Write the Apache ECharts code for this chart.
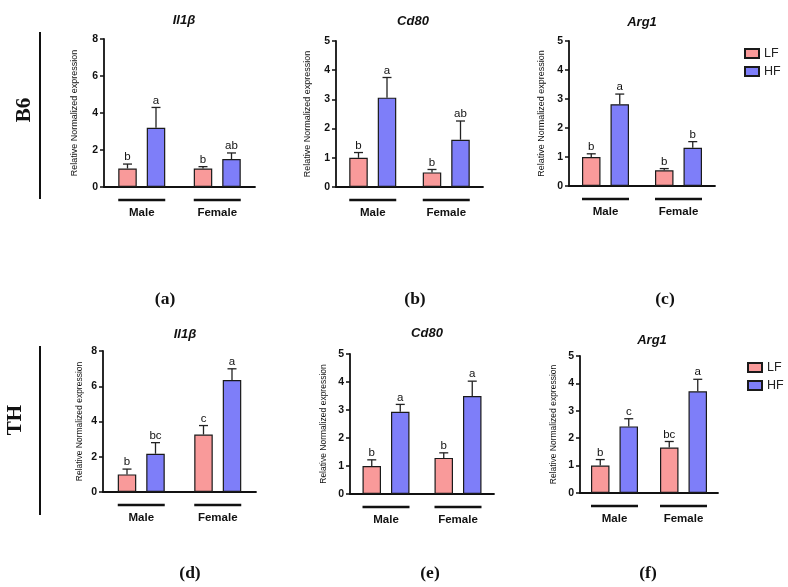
<!DOCTYPE html>
<html>
<head>
<meta charset="utf-8">
<script src="https://cdn.jsdelivr.net/npm/echarts@6/dist/echarts.min.js"></script>
<style>
html,body{margin:0;padding:0;background:#fff;}
#chart{width:788px;height:587px;}
</style>
</head>
<body>
<div id="chart"></div>
<script>
// ---------------- DATA ----------------
const categories = ['Male', 'Female'];
const seriesNames = ['LF', 'HF'];
const geneNames = ['Il1β', 'Cd80', 'Arg1', 'Il1β', 'Cd80', 'Arg1'];
const panelTags = ['a', 'b', 'c', 'd', 'e', 'f'];
const rowLabels = ['B6', 'TH'];
const yAxisName = 'Relative Normalized expression';
const yMax = [8, 5, 5, 8, 5, 5];
const yStep = [2, 1, 1, 2, 1, 1];

const lfMean = [[1.0, 1.0], [1.0, 0.5], [1.0, 0.54], [1.0, 3.26], [1.0, 1.29], [1.0, 1.66]];
const lfErr  = [[0.24, 0.1], [0.18, 0.1], [0.11, 0.06], [0.3, 0.51], [0.22, 0.18], [0.22, 0.22]];
const hfMean = [[3.2, 1.51], [3.06, 1.62], [2.82, 1.32], [2.17, 6.35], [2.94, 3.5], [2.43, 3.71]];
const hfErr  = [[1.1, 0.33], [0.69, 0.64], [0.35, 0.21], [0.63, 0.64], [0.26, 0.53], [0.28, 0.44]];
const lfLetters = [['b', 'b'], ['b', 'b'], ['b', 'b'], ['b', 'c'], ['b', 'b'], ['b', 'bc']];
const hfLetters = [['a', 'ab'], ['a', 'ab'], ['a', 'b'], ['bc', 'a'], ['a', 'a'], ['c', 'a']];

// ---------------- LAYOUT / STYLE ----------------
const gridBoxes = [
  {left: 104, top: 39, width: 151, height: 148},
  {left: 336, top: 41, width: 147, height: 146},
  {left: 569, top: 41, width: 146, height: 145},
  {left: 103, top: 351, width: 153, height: 141},
  {left: 350, top: 354, width: 144, height: 140},
  {left: 580, top: 356, width: 138, height: 137}
];
const nameGaps = [25, 24, 23, 19, 22, 22];
const nameSizes = [9, 9, 9, 8.5, 8.5, 8.5];
const titlePos = [[179, 9], [408, 10], [637, 11], [180, 323], [422, 322], [647, 329]];
const tagPos = [[160, 295], [410, 295], [660, 295], [185, 569], [425, 569], [643, 569]];
const colors = {LF: '#F99A9A', HF: '#7E7EF9'};
const BAR_W = 18.5;
const BAR_GAP = 10;
const SANS = 'Liberation Sans, Arial, sans-serif';
const SERIF = 'Liberation Serif, Times New Roman, serif';

const chart = echarts.init(document.getElementById('chart'), null, {renderer: 'canvas'});

const grid = [], xAxis = [], yAxis = [], series = [], title = [];

function errRenderer(offset, letters) {
  return function (params, api) {
    const c = api.value(0), m = api.value(1), e = api.value(2);
    const p0 = api.coord([c, m]);
    const p1 = api.coord([c, m + e]);
    const x = p0[0] + offset;
    return {
      type: 'group',
      children: [
        {type: 'line', shape: {x1: x, y1: p0[1], x2: x, y2: p1[1]}, style: {stroke: '#222', lineWidth: 1.3}},
        {type: 'line', shape: {x1: x - 4.5, y1: p1[1], x2: x + 4.5, y2: p1[1]}, style: {stroke: '#222', lineWidth: 1.3}},
        {type: 'text', x: x, y: p1[1] - 1, style: {text: letters[params.dataIndex], fill: '#111', font: '11.5px ' + SANS, textAlign: 'center', textVerticalAlign: 'bottom'}}
      ]
    };
  };
}

for (let i = 0; i < 6; i++) {
  const g = gridBoxes[i];
  grid.push({left: g.left, top: g.top, width: g.width, height: g.height, containLabel: false});
  xAxis.push({
    type: 'category', gridIndex: i, data: categories,
    axisLine: {show: true, lineStyle: {color: '#111', width: 1.8}},
    axisTick: {show: false},
    axisLabel: {margin: 20, color: '#111', fontWeight: 'bold', fontSize: 11.5, fontFamily: SANS},
    splitLine: {show: false}
  });
  yAxis.push({
    type: 'value', gridIndex: i, min: 0, max: yMax[i], interval: yStep[i],
    name: yAxisName, nameLocation: 'middle', nameGap: nameGaps[i],
    nameTextStyle: {fontSize: nameSizes[i], color: '#111', fontFamily: SANS},
    axisLine: {show: true, lineStyle: {color: '#111', width: 1.8}},
    axisTick: {show: true, length: 4, lineStyle: {color: '#111', width: 1.5}},
    axisLabel: {margin: 6, color: '#111', fontWeight: 'bold', fontSize: 10.5, fontFamily: SANS},
    splitLine: {show: false}
  });
  const means = [lfMean[i], hfMean[i]];
  const errs = [lfErr[i], hfErr[i]];
  const lets = [lfLetters[i], hfLetters[i]];
  seriesNames.forEach(function (nm, k) {
    series.push({
      type: 'bar', name: nm, xAxisIndex: i, yAxisIndex: i,
      data: means[k], barWidth: BAR_W, barGap: (BAR_GAP / BAR_W * 100) + '%',
      itemStyle: {color: colors[nm], borderColor: '#1a1a1a', borderWidth: 1.2},
      z: 2
    });
  });
  seriesNames.forEach(function (nm, k) {
    const off = (k === 0 ? -1 : 1) * (BAR_W + BAR_GAP) / 2;
    series.push({
      type: 'custom', name: nm + '-err-' + i, xAxisIndex: i, yAxisIndex: i,
      data: categories.map(function (c, j) { return [j, means[k][j], errs[k][j]]; }),
      encode: {x: 0, y: 1},
      renderItem: errRenderer(off, lets[k]),
      z: 3, silent: true
    });
  });
  title.push({
    text: geneNames[i], left: titlePos[i][0], top: titlePos[i][1], textAlign: 'center',
    textStyle: {fontSize: 13, fontWeight: 'bold', fontStyle: 'italic', color: '#111', fontFamily: SANS}
  });
  title.push({
    text: '{p|(}{b|' + panelTags[i] + '}{p|)}', left: tagPos[i][0], top: tagPos[i][1] - 10, textAlign: 'center',
    textStyle: {rich: {
      p: {fontSize: 17.5, fontFamily: SERIF, color: '#111'},
      b: {fontSize: 17.5, fontFamily: SERIF, fontWeight: 'bold', color: '#111'}
    }}
  });
}

const legendCommon = {
  orient: 'vertical', data: seriesNames, icon: 'rect', itemWidth: 14, itemHeight: 9, itemGap: 5,
  textStyle: {fontSize: 12.5, color: '#222', fontFamily: SANS}, selectedMode: false
};

const staticGraphics = [
  {type: 'text', id: 'rowB6', x: 25, y: 110, rotation: Math.PI / 2,
   style: {text: rowLabels[0], font: 'bold 21px ' + SERIF, fill: '#111', textAlign: 'center', textVerticalAlign: 'middle'}},
  {type: 'text', id: 'rowTH', x: 16, y: 420, rotation: Math.PI / 2,
   style: {text: rowLabels[1], font: 'bold 21px ' + SERIF, fill: '#111', textAlign: 'center', textVerticalAlign: 'middle'}},
  {type: 'line', id: 'vl1', shape: {x1: 40, y1: 32, x2: 40, y2: 199}, style: {stroke: '#111', lineWidth: 2}},
  {type: 'line', id: 'vl2', shape: {x1: 40, y1: 346, x2: 40, y2: 515}, style: {stroke: '#111', lineWidth: 2}}
];

chart.setOption({
  animation: false,
  backgroundColor: '#fff',
  title: title,
  legend: [
    Object.assign({left: 739, top: 42}, legendCommon),
    Object.assign({left: 742, top: 356}, legendCommon)
  ],
  grid: grid, xAxis: xAxis, yAxis: yAxis, series: series,
  graphic: staticGraphics
});

// group underlines under each category, positioned from axis scales
const underlines = [];
for (let i = 0; i < 6; i++) {
  const y0 = chart.convertToPixel({yAxisIndex: i}, 0);
  categories.forEach(function (c, j) {
    const cx = chart.convertToPixel({xAxisIndex: i}, c);
    const half = BAR_W + BAR_GAP / 2;
    underlines.push({type: 'line', id: 'ul' + i + '_' + j,
      shape: {x1: cx - half, y1: y0 + 13, x2: cx + half, y2: y0 + 13},
      style: {stroke: '#111', lineWidth: 2.6}});
  });
}
chart.setOption({graphic: staticGraphics.concat(underlines)});
</script>
</body>
</html>
